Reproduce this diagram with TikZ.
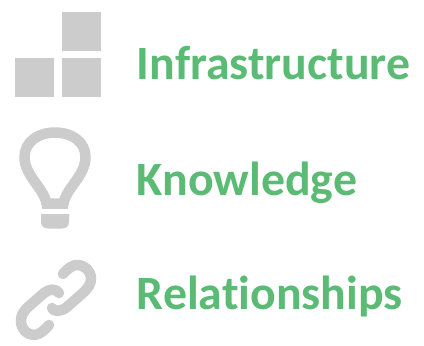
\documentclass[tikz,border=0pt]{standalone}
\usepackage{fontspec}
\setmainfont[Ligatures=NoCommon]{Carlito}
\definecolor{icongrey}{HTML}{CCCCCC}
\definecolor{labelgreen}{HTML}{5BBB75}
\tikzset{
  iconfill/.style={fill=icongrey,draw=none},
  iconline/.style={draw=icongrey,line width=10.5pt,line cap=round,line join=round},
  labeltext/.style={anchor=base west,inner sep=0pt,text=labelgreen,font=\fontsize{47.8}{48}\selectfont\bfseries}
}
\begin{document}
\begin{tikzpicture}[x=1pt,y=-1pt]
\useasboundingbox (0,0) rectangle (424,346);
\fill[white] (0,0) rectangle (424,346);
% squares
\path[iconfill] (62,12) rectangle (101,51);
\path[iconfill] (15,58) rectangle (54,97);
\path[iconfill] (62,58) rectangle (101,97);
% bulb
\draw[iconline,line cap=butt,line join=miter] (46.5,203.5) .. controls (44,188) and (24.5,176) .. (24.5,157)
  .. controls (24.5,142) and (38,132.5) .. (55,132.5)
  .. controls (72,132.5) and (85.5,142) .. (85.5,157)
  .. controls (85.5,176) and (66,188) .. (63.5,203.5) -- cycle;
\path[iconfill] (41,214) -- (69,214) -- (69,222) .. controls (69,226) and (66,228.5) .. (62,228.5) -- (48,228.5) .. controls (44,228.5) and (41,226) .. (41,222) -- cycle;
% link
\draw[iconline] (63,274) .. controls (68,268) and (73,265) .. (77,265)
  .. controls (85,265) and (91,271) .. (91,279)
  .. controls (91,284) and (88,288) .. (84,292)
  -- (67,307) .. controls (61,312) and (53,312) .. (52,308);
\draw[iconline] (59,293) .. controls (56,288) and (49,289) .. (44,293)
  -- (27,308) .. controls (23,312) and (21,316) .. (21,321)
  .. controls (21,329) and (27,335) .. (34,335)
  .. controls (39,335) and (45,330) .. (49,325);
% labels
\node[labeltext] (a) at (136.7,79) {Infrastructure};
\node[labeltext] (b) at (136.7,195) {Knowledge};
\node[labeltext] (c) at (136.7,309) {Relationships};
\end{tikzpicture}
\end{document}
